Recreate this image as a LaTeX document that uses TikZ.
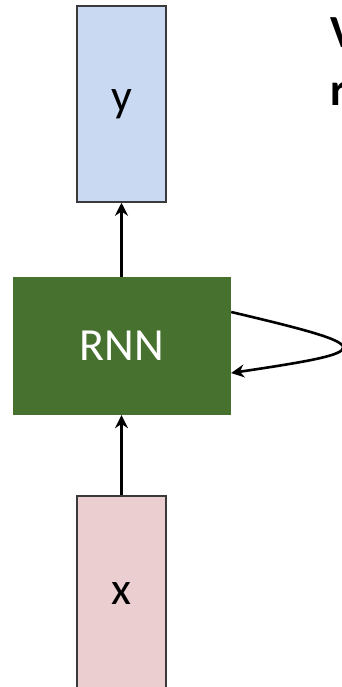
\documentclass[tikz,border=0pt]{standalone}
\usepackage{fontspec}
\setmainfont{Carlito}
\usetikzlibrary{arrows.meta}
\definecolor{ybox}{HTML}{CAD9F2}
\definecolor{xbox}{HTML}{EBCFD0}
\definecolor{rnngreen}{HTML}{47712E}
\definecolor{edge}{HTML}{3A3A3A}
\tikzset{
  vecbox/.style={draw=edge, line width=1.5pt, minimum width=89pt, minimum height=196pt, inner sep=0pt, font=\fontsize{46}{55}\selectfont},
  cellbox/.style={fill=rnngreen, draw=none, minimum width=218pt, minimum height=138pt, inner sep=0pt, text=white, font=\fontsize{46}{55}\selectfont},
  conn/.style={line width=2.6pt, -{Stealth[length=13pt,width=13pt]}},
  sidetext/.style={anchor=base west, inner sep=0pt, font=\bfseries\fontsize{46}{55}\selectfont}
}
\begin{document}
\begin{tikzpicture}[x=1pt, y=-1pt]
\path[use as bounding box, clip] (0,0) rectangle (342,687);
\node[vecbox, fill=ybox] (y) at (121.5,104) {y};
\node[cellbox] (rnn) at (122,346) {RNN};
\node[vecbox, fill=xbox] (x) at (121.5,594) {x};
\draw[conn] (rnn.north -| y.south) -- (y.south);
\draw[conn] (x.north) -- (rnn.south -| x.north);
\coordinate (loopout) at ([yshift=34pt]rnn.east);
\coordinate (loopin) at ([yshift=-27pt]rnn.east);
\draw[conn] (loopout) .. controls +(148,35) and +(148,-22) .. (loopin);
\node[sidetext] (t1) at (330,48) {V};
\node[sidetext] (t2) at (330,106) {r};
\end{tikzpicture}
\end{document}
